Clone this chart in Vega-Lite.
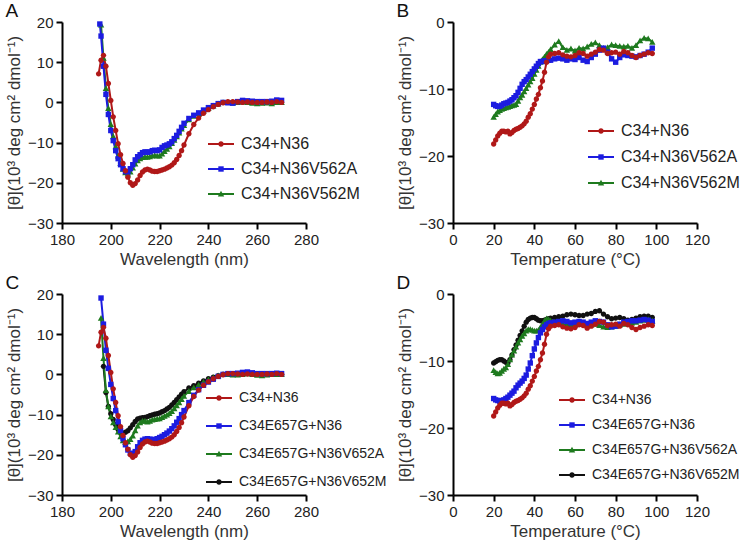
{
"$schema":"https://vega.github.io/schema/vega-lite/v6.json",
"background":"white",
"padding":{"left":5,"top":2,"right":5,"bottom":5},
"datasets":{
"cd":[
{"s":"m","x":196,"y":19.3},{"s":"m","x":197,"y":11},{"s":"m","x":198,"y":3.5},{"s":"m","x":199,"y":-1.5},{"s":"m","x":200,"y":-5.5},{"s":"m","x":201,"y":-8.5},{"s":"m","x":202,"y":-11},{"s":"m","x":203,"y":-13.3},{"s":"m","x":204,"y":-15.2},{"s":"m","x":205,"y":-16.6},{"s":"m","x":206,"y":-17.5},{"s":"m","x":207,"y":-17.8},{"s":"m","x":208,"y":-17.3},{"s":"m","x":209,"y":-16.3},{"s":"m","x":210,"y":-15.3},{"s":"m","x":211,"y":-14.5},{"s":"m","x":212,"y":-14},{"s":"m","x":213,"y":-13.7},{"s":"m","x":214,"y":-13.6},{"s":"m","x":215,"y":-13.6},{"s":"m","x":216,"y":-13.5},{"s":"m","x":217,"y":-13.3},{"s":"m","x":218,"y":-13.2},{"s":"m","x":219,"y":-13.3},{"s":"m","x":220,"y":-13.3},{"s":"m","x":221,"y":-12.8},{"s":"m","x":222,"y":-12.2},{"s":"m","x":223,"y":-11.6},{"s":"m","x":224,"y":-11},{"s":"m","x":225,"y":-10.2},{"s":"m","x":226,"y":-9.4},{"s":"m","x":227,"y":-8.5},{"s":"m","x":228,"y":-7.6},{"s":"m","x":229,"y":-6.6},{"s":"m","x":230,"y":-5.7},{"s":"m","x":232,"y":-4.3},{"s":"m","x":234,"y":-3.4},{"s":"m","x":236,"y":-2.8},{"s":"m","x":238,"y":-2.1},{"s":"m","x":240,"y":-1.5},{"s":"m","x":242,"y":-0.9},{"s":"m","x":244,"y":-0.4},{"s":"m","x":246,"y":0},{"s":"m","x":248,"y":0},{"s":"m","x":250,"y":-0.1},{"s":"m","x":252,"y":0},{"s":"m","x":254,"y":0.1},{"s":"m","x":256,"y":0},{"s":"m","x":258,"y":-0.2},{"s":"m","x":260,"y":-0.3},{"s":"m","x":262,"y":-0.2},{"s":"m","x":264,"y":-0.1},{"s":"m","x":266,"y":-0.3},{"s":"m","x":268,"y":0},{"s":"m","x":270,"y":0},
{"s":"a","x":195.5,"y":19.5},{"s":"a","x":196,"y":16.5},{"s":"a","x":197,"y":9},{"s":"a","x":198,"y":2},{"s":"a","x":199,"y":-3},{"s":"a","x":200,"y":-7},{"s":"a","x":201,"y":-9.5},{"s":"a","x":202,"y":-12},{"s":"a","x":203,"y":-14},{"s":"a","x":204,"y":-15.5},{"s":"a","x":205,"y":-16.5},{"s":"a","x":206,"y":-17.2},{"s":"a","x":207,"y":-17.3},{"s":"a","x":208,"y":-16.5},{"s":"a","x":209,"y":-15.5},{"s":"a","x":210,"y":-14.3},{"s":"a","x":211,"y":-13.5},{"s":"a","x":212,"y":-13},{"s":"a","x":213,"y":-12.5},{"s":"a","x":214,"y":-12.3},{"s":"a","x":215,"y":-12.4},{"s":"a","x":216,"y":-12.3},{"s":"a","x":217,"y":-12},{"s":"a","x":218,"y":-11.9},{"s":"a","x":219,"y":-12},{"s":"a","x":220,"y":-11.8},{"s":"a","x":221,"y":-11.2},{"s":"a","x":222,"y":-10.8},{"s":"a","x":223,"y":-10.6},{"s":"a","x":224,"y":-10.3},{"s":"a","x":225,"y":-9.8},{"s":"a","x":226,"y":-9},{"s":"a","x":227,"y":-8.2},{"s":"a","x":228,"y":-7.2},{"s":"a","x":229,"y":-6.2},{"s":"a","x":230,"y":-5.2},{"s":"a","x":232,"y":-4},{"s":"a","x":234,"y":-3.2},{"s":"a","x":236,"y":-2.6},{"s":"a","x":238,"y":-1.9},{"s":"a","x":240,"y":-1.3},{"s":"a","x":242,"y":-0.8},{"s":"a","x":244,"y":-0.3},{"s":"a","x":246,"y":0},{"s":"a","x":248,"y":-0.1},{"s":"a","x":250,"y":-0.2},{"s":"a","x":252,"y":0.2},{"s":"a","x":254,"y":0.5},{"s":"a","x":256,"y":0.4},{"s":"a","x":258,"y":0.3},{"s":"a","x":260,"y":0.2},{"s":"a","x":262,"y":0.2},{"s":"a","x":264,"y":0.2},{"s":"a","x":266,"y":0.3},{"s":"a","x":268,"y":0.6},{"s":"a","x":270,"y":0.5},
{"s":"em","x":197,"y":2},{"s":"em","x":198,"y":-4.5},{"s":"em","x":199,"y":-8},{"s":"em","x":200,"y":-9.8},{"s":"em","x":201,"y":-11.2},{"s":"em","x":202,"y":-12.5},{"s":"em","x":203,"y":-13.7},{"s":"em","x":204,"y":-14.4},{"s":"em","x":205,"y":-14.6},{"s":"em","x":206,"y":-14.4},{"s":"em","x":207,"y":-14},{"s":"em","x":208,"y":-13.3},{"s":"em","x":209,"y":-12.5},{"s":"em","x":210,"y":-11.7},{"s":"em","x":211,"y":-11.1},{"s":"em","x":212,"y":-10.9},{"s":"em","x":213,"y":-10.8},{"s":"em","x":214,"y":-10.7},{"s":"em","x":215,"y":-10.5},{"s":"em","x":216,"y":-10.3},{"s":"em","x":217,"y":-10.1},{"s":"em","x":218,"y":-9.9},{"s":"em","x":219,"y":-9.8},{"s":"em","x":220,"y":-9.6},{"s":"em","x":221,"y":-9.3},{"s":"em","x":222,"y":-9},{"s":"em","x":223,"y":-8.6},{"s":"em","x":224,"y":-8.2},{"s":"em","x":225,"y":-7.6},{"s":"em","x":226,"y":-7},{"s":"em","x":227,"y":-6.3},{"s":"em","x":228,"y":-5.6},{"s":"em","x":229,"y":-4.9},{"s":"em","x":230,"y":-4.3},{"s":"em","x":232,"y":-3.4},{"s":"em","x":234,"y":-2.8},{"s":"em","x":236,"y":-2.2},{"s":"em","x":238,"y":-1.6},{"s":"em","x":240,"y":-1.1},{"s":"em","x":242,"y":-0.7},{"s":"em","x":244,"y":-0.3},{"s":"em","x":246,"y":0},{"s":"em","x":248,"y":0.1},{"s":"em","x":250,"y":0},{"s":"em","x":252,"y":0.1},{"s":"em","x":254,"y":0.2},{"s":"em","x":256,"y":0.3},{"s":"em","x":258,"y":0.1},{"s":"em","x":260,"y":0},{"s":"em","x":262,"y":0},{"s":"em","x":264,"y":0.1},{"s":"em","x":266,"y":0},{"s":"em","x":268,"y":0.1},{"s":"em","x":270,"y":0},
{"s":"ea","x":196,"y":14},{"s":"ea","x":197,"y":4},{"s":"ea","x":198,"y":-4},{"s":"ea","x":199,"y":-8},{"s":"ea","x":200,"y":-10.5},{"s":"ea","x":201,"y":-12},{"s":"ea","x":202,"y":-13.2},{"s":"ea","x":203,"y":-14.3},{"s":"ea","x":204,"y":-15.5},{"s":"ea","x":205,"y":-16.5},{"s":"ea","x":206,"y":-16.9},{"s":"ea","x":207,"y":-16.7},{"s":"ea","x":208,"y":-16.2},{"s":"ea","x":209,"y":-15.3},{"s":"ea","x":210,"y":-14},{"s":"ea","x":211,"y":-12.8},{"s":"ea","x":212,"y":-12},{"s":"ea","x":213,"y":-11.6},{"s":"ea","x":214,"y":-11.6},{"s":"ea","x":215,"y":-11.8},{"s":"ea","x":216,"y":-11.6},{"s":"ea","x":217,"y":-11.3},{"s":"ea","x":218,"y":-11.2},{"s":"ea","x":219,"y":-11.1},{"s":"ea","x":220,"y":-11},{"s":"ea","x":221,"y":-10.7},{"s":"ea","x":222,"y":-10.4},{"s":"ea","x":223,"y":-10.1},{"s":"ea","x":224,"y":-9.7},{"s":"ea","x":225,"y":-9.2},{"s":"ea","x":226,"y":-8.5},{"s":"ea","x":227,"y":-7.8},{"s":"ea","x":228,"y":-7},{"s":"ea","x":229,"y":-6.2},{"s":"ea","x":230,"y":-5.4},{"s":"ea","x":232,"y":-4.2},{"s":"ea","x":234,"y":-3.3},{"s":"ea","x":236,"y":-2.6},{"s":"ea","x":238,"y":-1.9},{"s":"ea","x":240,"y":-1.3},{"s":"ea","x":242,"y":-0.8},{"s":"ea","x":244,"y":-0.3},{"s":"ea","x":246,"y":0},{"s":"ea","x":248,"y":0},{"s":"ea","x":250,"y":-0.1},{"s":"ea","x":252,"y":-0.1},{"s":"ea","x":254,"y":0},{"s":"ea","x":256,"y":0.2},{"s":"ea","x":258,"y":0},{"s":"ea","x":260,"y":-0.2},{"s":"ea","x":262,"y":-0.3},{"s":"ea","x":264,"y":-0.1},{"s":"ea","x":266,"y":0},{"s":"ea","x":268,"y":0},{"s":"ea","x":270,"y":0},
{"s":"e","x":196,"y":19},{"s":"e","x":197,"y":12.5},{"s":"e","x":198,"y":6},{"s":"e","x":199,"y":1.5},{"s":"e","x":200,"y":-2.5},{"s":"e","x":201,"y":-6},{"s":"e","x":202,"y":-9},{"s":"e","x":203,"y":-11.8},{"s":"e","x":204,"y":-14},{"s":"e","x":205,"y":-16},{"s":"e","x":206,"y":-17.5},{"s":"e","x":207,"y":-18.8},{"s":"e","x":208,"y":-19.6},{"s":"e","x":209,"y":-19.8},{"s":"e","x":210,"y":-19.2},{"s":"e","x":211,"y":-18},{"s":"e","x":212,"y":-17},{"s":"e","x":213,"y":-16.4},{"s":"e","x":214,"y":-16.1},{"s":"e","x":215,"y":-16},{"s":"e","x":216,"y":-16.1},{"s":"e","x":217,"y":-16.2},{"s":"e","x":218,"y":-16.2},{"s":"e","x":219,"y":-16},{"s":"e","x":220,"y":-15.7},{"s":"e","x":221,"y":-15.4},{"s":"e","x":222,"y":-15},{"s":"e","x":223,"y":-14.6},{"s":"e","x":224,"y":-14.1},{"s":"e","x":225,"y":-13.5},{"s":"e","x":226,"y":-12.8},{"s":"e","x":227,"y":-11.9},{"s":"e","x":228,"y":-11},{"s":"e","x":229,"y":-10},{"s":"e","x":230,"y":-9},{"s":"e","x":232,"y":-7},{"s":"e","x":234,"y":-5.2},{"s":"e","x":236,"y":-3.8},{"s":"e","x":238,"y":-2.7},{"s":"e","x":240,"y":-1.9},{"s":"e","x":242,"y":-1.2},{"s":"e","x":244,"y":-0.5},{"s":"e","x":246,"y":0},{"s":"e","x":248,"y":0.2},{"s":"e","x":250,"y":0.2},{"s":"e","x":252,"y":0.3},{"s":"e","x":254,"y":0.5},{"s":"e","x":256,"y":0.6},{"s":"e","x":258,"y":0.4},{"s":"e","x":260,"y":0.2},{"s":"e","x":262,"y":0.2},{"s":"e","x":264,"y":0.2},{"s":"e","x":266,"y":0.2},{"s":"e","x":268,"y":0.3},{"s":"e","x":270,"y":0.2},
{"s":"wt","x":195,"y":7.1},{"s":"wt","x":196,"y":10.5},{"s":"wt","x":197,"y":11.7},{"s":"wt","x":198,"y":9},{"s":"wt","x":199,"y":4.7},{"s":"wt","x":200,"y":0.5},{"s":"wt","x":201,"y":-3.6},{"s":"wt","x":202,"y":-7},{"s":"wt","x":203,"y":-10.3},{"s":"wt","x":204,"y":-13},{"s":"wt","x":205,"y":-15.2},{"s":"wt","x":206,"y":-17},{"s":"wt","x":207,"y":-18.6},{"s":"wt","x":208,"y":-20},{"s":"wt","x":209,"y":-20.6},{"s":"wt","x":210,"y":-20.2},{"s":"wt","x":211,"y":-19.3},{"s":"wt","x":212,"y":-18.2},{"s":"wt","x":213,"y":-17.3},{"s":"wt","x":214,"y":-16.8},{"s":"wt","x":215,"y":-16.6},{"s":"wt","x":216,"y":-16.8},{"s":"wt","x":217,"y":-17.1},{"s":"wt","x":218,"y":-17.2},{"s":"wt","x":219,"y":-17.2},{"s":"wt","x":220,"y":-17},{"s":"wt","x":221,"y":-16.8},{"s":"wt","x":222,"y":-16.6},{"s":"wt","x":223,"y":-16.3},{"s":"wt","x":224,"y":-16},{"s":"wt","x":225,"y":-15.6},{"s":"wt","x":226,"y":-15},{"s":"wt","x":227,"y":-14.2},{"s":"wt","x":228,"y":-13.2},{"s":"wt","x":229,"y":-12},{"s":"wt","x":230,"y":-10.6},{"s":"wt","x":232,"y":-7.8},{"s":"wt","x":234,"y":-5.5},{"s":"wt","x":236,"y":-3.9},{"s":"wt","x":238,"y":-2.7},{"s":"wt","x":240,"y":-1.8},{"s":"wt","x":242,"y":-1.1},{"s":"wt","x":244,"y":-0.5},{"s":"wt","x":246,"y":-0.1},{"s":"wt","x":248,"y":0.2},{"s":"wt","x":250,"y":0.2},{"s":"wt","x":252,"y":0.1},{"s":"wt","x":254,"y":0},{"s":"wt","x":256,"y":0.1},{"s":"wt","x":258,"y":0},{"s":"wt","x":260,"y":0},{"s":"wt","x":262,"y":0},{"s":"wt","x":264,"y":0.1},{"s":"wt","x":266,"y":0},{"s":"wt","x":268,"y":0.2},{"s":"wt","x":270,"y":0}
],
"tm":[
{"s":"m","x":20,"y":-14.2},{"s":"m","x":21,"y":-13.8},{"s":"m","x":22,"y":-13.4},{"s":"m","x":23,"y":-13.2},{"s":"m","x":24,"y":-13},{"s":"m","x":25,"y":-12.9},{"s":"m","x":26,"y":-12.8},{"s":"m","x":27,"y":-12.7},{"s":"m","x":28,"y":-12.6},{"s":"m","x":29,"y":-12.5},{"s":"m","x":30,"y":-12.4},{"s":"m","x":31,"y":-12.3},{"s":"m","x":32,"y":-11.8},{"s":"m","x":33,"y":-11.3},{"s":"m","x":34,"y":-10.9},{"s":"m","x":35,"y":-10.4},{"s":"m","x":36,"y":-9.9},{"s":"m","x":37,"y":-9.4},{"s":"m","x":38,"y":-8.9},{"s":"m","x":39,"y":-8.4},{"s":"m","x":40,"y":-7.8},{"s":"m","x":41,"y":-7.2},{"s":"m","x":42,"y":-6.6},{"s":"m","x":43,"y":-6},{"s":"m","x":44,"y":-5.6},{"s":"m","x":45,"y":-5.2},{"s":"m","x":46,"y":-4.8},{"s":"m","x":47,"y":-4.5},{"s":"m","x":48,"y":-4.1},{"s":"m","x":50,"y":-3.4},{"s":"m","x":52,"y":-2.9},{"s":"m","x":54,"y":-3.8},{"s":"m","x":56,"y":-4.2},{"s":"m","x":58,"y":-4},{"s":"m","x":60,"y":-4.3},{"s":"m","x":62,"y":-3.9},{"s":"m","x":64,"y":-4},{"s":"m","x":66,"y":-3.7},{"s":"m","x":68,"y":-3.3},{"s":"m","x":70,"y":-3.1},{"s":"m","x":72,"y":-3.5},{"s":"m","x":74,"y":-3.9},{"s":"m","x":76,"y":-3.8},{"s":"m","x":78,"y":-3.4},{"s":"m","x":80,"y":-3.5},{"s":"m","x":82,"y":-3.6},{"s":"m","x":84,"y":-3.7},{"s":"m","x":86,"y":-3.6},{"s":"m","x":88,"y":-3.9},{"s":"m","x":90,"y":-3.5},{"s":"m","x":92,"y":-2.8},{"s":"m","x":94,"y":-2.4},{"s":"m","x":96,"y":-2.5},{"s":"m","x":98,"y":-3},
{"s":"a","x":20,"y":-12.3},{"s":"a","x":21,"y":-12.5},{"s":"a","x":22,"y":-12.6},{"s":"a","x":23,"y":-12.6},{"s":"a","x":24,"y":-12.4},{"s":"a","x":25,"y":-12.2},{"s":"a","x":26,"y":-12.1},{"s":"a","x":27,"y":-12},{"s":"a","x":28,"y":-11.8},{"s":"a","x":29,"y":-11.6},{"s":"a","x":30,"y":-11.3},{"s":"a","x":31,"y":-11},{"s":"a","x":32,"y":-10.5},{"s":"a","x":33,"y":-9.9},{"s":"a","x":34,"y":-9.3},{"s":"a","x":35,"y":-8.9},{"s":"a","x":36,"y":-8.6},{"s":"a","x":37,"y":-8.2},{"s":"a","x":38,"y":-7.8},{"s":"a","x":39,"y":-7.4},{"s":"a","x":40,"y":-7},{"s":"a","x":41,"y":-6.6},{"s":"a","x":42,"y":-6.2},{"s":"a","x":43,"y":-5.9},{"s":"a","x":44,"y":-5.9},{"s":"a","x":45,"y":-5.8},{"s":"a","x":46,"y":-5.8},{"s":"a","x":47,"y":-5.7},{"s":"a","x":48,"y":-5.7},{"s":"a","x":50,"y":-5.5},{"s":"a","x":52,"y":-5.4},{"s":"a","x":54,"y":-5.5},{"s":"a","x":56,"y":-5.7},{"s":"a","x":58,"y":-5.5},{"s":"a","x":60,"y":-5.6},{"s":"a","x":62,"y":-5.3},{"s":"a","x":64,"y":-5.7},{"s":"a","x":66,"y":-5.9},{"s":"a","x":68,"y":-5.3},{"s":"a","x":70,"y":-4.8},{"s":"a","x":72,"y":-4.2},{"s":"a","x":74,"y":-3.9},{"s":"a","x":76,"y":-4.5},{"s":"a","x":78,"y":-5.5},{"s":"a","x":80,"y":-6},{"s":"a","x":82,"y":-5.3},{"s":"a","x":84,"y":-4.9},{"s":"a","x":86,"y":-5},{"s":"a","x":88,"y":-5.1},{"s":"a","x":90,"y":-5.2},{"s":"a","x":92,"y":-5},{"s":"a","x":94,"y":-4.8},{"s":"a","x":96,"y":-4.5},{"s":"a","x":98,"y":-3.9},
{"s":"em","x":20,"y":-10.3},{"s":"em","x":21,"y":-10.1},{"s":"em","x":22,"y":-9.9},{"s":"em","x":23,"y":-9.8},{"s":"em","x":24,"y":-9.8},{"s":"em","x":25,"y":-10},{"s":"em","x":26,"y":-10.2},{"s":"em","x":27,"y":-10.3},{"s":"em","x":28,"y":-9.8},{"s":"em","x":29,"y":-9.1},{"s":"em","x":30,"y":-8.3},{"s":"em","x":31,"y":-7.6},{"s":"em","x":32,"y":-6.9},{"s":"em","x":33,"y":-6.2},{"s":"em","x":34,"y":-5.5},{"s":"em","x":35,"y":-4.8},{"s":"em","x":36,"y":-4.2},{"s":"em","x":37,"y":-3.8},{"s":"em","x":38,"y":-3.6},{"s":"em","x":39,"y":-3.5},{"s":"em","x":40,"y":-3.5},{"s":"em","x":41,"y":-3.7},{"s":"em","x":42,"y":-3.9},{"s":"em","x":43,"y":-4},{"s":"em","x":44,"y":-4},{"s":"em","x":45,"y":-3.9},{"s":"em","x":46,"y":-3.8},{"s":"em","x":47,"y":-3.7},{"s":"em","x":48,"y":-3.6},{"s":"em","x":50,"y":-3.5},{"s":"em","x":52,"y":-3.4},{"s":"em","x":54,"y":-3.3},{"s":"em","x":56,"y":-3.1},{"s":"em","x":58,"y":-3},{"s":"em","x":60,"y":-3.1},{"s":"em","x":62,"y":-3.2},{"s":"em","x":64,"y":-3.2},{"s":"em","x":66,"y":-3},{"s":"em","x":68,"y":-2.9},{"s":"em","x":70,"y":-2.6},{"s":"em","x":72,"y":-2.5},{"s":"em","x":74,"y":-3},{"s":"em","x":76,"y":-3.4},{"s":"em","x":78,"y":-3.7},{"s":"em","x":80,"y":-3.6},{"s":"em","x":82,"y":-3.5},{"s":"em","x":84,"y":-3.7},{"s":"em","x":86,"y":-3.9},{"s":"em","x":88,"y":-3.8},{"s":"em","x":90,"y":-3.6},{"s":"em","x":92,"y":-3.4},{"s":"em","x":94,"y":-3.3},{"s":"em","x":96,"y":-3.3},{"s":"em","x":98,"y":-3.5},
{"s":"ea","x":20,"y":-11.4},{"s":"ea","x":21,"y":-11.7},{"s":"ea","x":22,"y":-11.9},{"s":"ea","x":23,"y":-11.8},{"s":"ea","x":24,"y":-11.5},{"s":"ea","x":25,"y":-11.2},{"s":"ea","x":26,"y":-11},{"s":"ea","x":27,"y":-10.5},{"s":"ea","x":28,"y":-9.8},{"s":"ea","x":29,"y":-9.1},{"s":"ea","x":30,"y":-8.5},{"s":"ea","x":31,"y":-7.9},{"s":"ea","x":32,"y":-7.3},{"s":"ea","x":33,"y":-6.8},{"s":"ea","x":34,"y":-6.3},{"s":"ea","x":35,"y":-5.9},{"s":"ea","x":36,"y":-5.5},{"s":"ea","x":37,"y":-5.3},{"s":"ea","x":38,"y":-5.3},{"s":"ea","x":39,"y":-5.4},{"s":"ea","x":40,"y":-5.5},{"s":"ea","x":41,"y":-5.5},{"s":"ea","x":42,"y":-5.4},{"s":"ea","x":43,"y":-5},{"s":"ea","x":44,"y":-4.5},{"s":"ea","x":45,"y":-4},{"s":"ea","x":46,"y":-3.7},{"s":"ea","x":47,"y":-3.8},{"s":"ea","x":48,"y":-4},{"s":"ea","x":50,"y":-4.2},{"s":"ea","x":52,"y":-4.4},{"s":"ea","x":54,"y":-4.5},{"s":"ea","x":56,"y":-4.6},{"s":"ea","x":58,"y":-4.6},{"s":"ea","x":60,"y":-4.6},{"s":"ea","x":62,"y":-4.5},{"s":"ea","x":64,"y":-4.5},{"s":"ea","x":66,"y":-4.6},{"s":"ea","x":68,"y":-4.6},{"s":"ea","x":70,"y":-4.5},{"s":"ea","x":72,"y":-4.7},{"s":"ea","x":74,"y":-4.9},{"s":"ea","x":76,"y":-5},{"s":"ea","x":78,"y":-4.9},{"s":"ea","x":80,"y":-4.8},{"s":"ea","x":82,"y":-4.6},{"s":"ea","x":84,"y":-4.5},{"s":"ea","x":86,"y":-4.4},{"s":"ea","x":88,"y":-4.3},{"s":"ea","x":90,"y":-4.2},{"s":"ea","x":92,"y":-4},{"s":"ea","x":94,"y":-3.9},{"s":"ea","x":96,"y":-3.8},{"s":"ea","x":98,"y":-4},
{"s":"e","x":20,"y":-15.6},{"s":"e","x":21,"y":-15.8},{"s":"e","x":22,"y":-15.9},{"s":"e","x":23,"y":-16},{"s":"e","x":24,"y":-15.9},{"s":"e","x":25,"y":-15.8},{"s":"e","x":26,"y":-15.6},{"s":"e","x":27,"y":-15.4},{"s":"e","x":28,"y":-15.1},{"s":"e","x":29,"y":-14.8},{"s":"e","x":30,"y":-14.5},{"s":"e","x":31,"y":-14},{"s":"e","x":32,"y":-13.6},{"s":"e","x":33,"y":-13.3},{"s":"e","x":34,"y":-13},{"s":"e","x":35,"y":-12.6},{"s":"e","x":36,"y":-12.1},{"s":"e","x":37,"y":-11.2},{"s":"e","x":38,"y":-10.3},{"s":"e","x":39,"y":-9.2},{"s":"e","x":40,"y":-8.2},{"s":"e","x":41,"y":-7.3},{"s":"e","x":42,"y":-6.5},{"s":"e","x":43,"y":-5.8},{"s":"e","x":44,"y":-5.3},{"s":"e","x":45,"y":-4.9},{"s":"e","x":46,"y":-4.6},{"s":"e","x":47,"y":-4.4},{"s":"e","x":48,"y":-4.3},{"s":"e","x":50,"y":-4.2},{"s":"e","x":52,"y":-4.1},{"s":"e","x":54,"y":-4},{"s":"e","x":56,"y":-4.1},{"s":"e","x":58,"y":-4.3},{"s":"e","x":60,"y":-4.2},{"s":"e","x":62,"y":-4.1},{"s":"e","x":64,"y":-4.2},{"s":"e","x":66,"y":-4.4},{"s":"e","x":68,"y":-4.2},{"s":"e","x":70,"y":-4},{"s":"e","x":72,"y":-4.1},{"s":"e","x":74,"y":-4.2},{"s":"e","x":76,"y":-4.6},{"s":"e","x":78,"y":-4.9},{"s":"e","x":80,"y":-4.8},{"s":"e","x":82,"y":-4.5},{"s":"e","x":84,"y":-4.2},{"s":"e","x":86,"y":-4.1},{"s":"e","x":88,"y":-4},{"s":"e","x":90,"y":-4},{"s":"e","x":92,"y":-3.9},{"s":"e","x":94,"y":-3.8},{"s":"e","x":96,"y":-3.9},{"s":"e","x":98,"y":-4.1},
{"s":"wt","x":20,"y":-18.2},{"s":"wt","x":21,"y":-17.6},{"s":"wt","x":22,"y":-17},{"s":"wt","x":23,"y":-16.6},{"s":"wt","x":24,"y":-16.3},{"s":"wt","x":25,"y":-16.3},{"s":"wt","x":26,"y":-16.4},{"s":"wt","x":27,"y":-16.3},{"s":"wt","x":28,"y":-16.7},{"s":"wt","x":29,"y":-16.5},{"s":"wt","x":30,"y":-16.2},{"s":"wt","x":31,"y":-16},{"s":"wt","x":32,"y":-15.9},{"s":"wt","x":33,"y":-15.7},{"s":"wt","x":34,"y":-15.5},{"s":"wt","x":35,"y":-15.2},{"s":"wt","x":36,"y":-14.8},{"s":"wt","x":37,"y":-14.2},{"s":"wt","x":38,"y":-13.7},{"s":"wt","x":39,"y":-13},{"s":"wt","x":40,"y":-12.3},{"s":"wt","x":41,"y":-11.5},{"s":"wt","x":42,"y":-10.8},{"s":"wt","x":43,"y":-9.8},{"s":"wt","x":44,"y":-8.8},{"s":"wt","x":45,"y":-7.5},{"s":"wt","x":46,"y":-6},{"s":"wt","x":47,"y":-5.2},{"s":"wt","x":48,"y":-4.8},{"s":"wt","x":50,"y":-4.7},{"s":"wt","x":52,"y":-4.6},{"s":"wt","x":54,"y":-4.9},{"s":"wt","x":56,"y":-5.1},{"s":"wt","x":58,"y":-5.2},{"s":"wt","x":60,"y":-5},{"s":"wt","x":62,"y":-4.6},{"s":"wt","x":64,"y":-4.7},{"s":"wt","x":66,"y":-5.1},{"s":"wt","x":68,"y":-4.8},{"s":"wt","x":70,"y":-4.5},{"s":"wt","x":72,"y":-4.1},{"s":"wt","x":74,"y":-4.2},{"s":"wt","x":76,"y":-4.7},{"s":"wt","x":78,"y":-4.6},{"s":"wt","x":80,"y":-4.5},{"s":"wt","x":82,"y":-4.8},{"s":"wt","x":84,"y":-4.4},{"s":"wt","x":86,"y":-4.6},{"s":"wt","x":88,"y":-5},{"s":"wt","x":90,"y":-5.3},{"s":"wt","x":92,"y":-5},{"s":"wt","x":94,"y":-4.8},{"s":"wt","x":96,"y":-4.6},{"s":"wt","x":98,"y":-4.7}
]
},
"bounds":"flush",
"columns":2,
"spacing":{"row":71,"column":147},
"resolve":{"scale":{"fill":"independent","stroke":"independent","shape":"independent"},"legend":{"fill":"independent","stroke":"independent","shape":"independent"}},
"concat":[
{"width":244,"height":201,"title":{"text":"A"},"data":{"name":"cd"},
"transform":[{"filter":{"field":"s","oneOf":["m","a","wt"]}}],
"encoding":{
"x":{"field":"x","type":"quantitative","scale":{"domain":[180,280],"nice":false},"axis":{"values":[180,200,220,240,260,280],"title":"Wavelength (nm)"}},
"y":{"field":"y","type":"quantitative","scale":{"domain":[-30,20],"nice":false},"axis":{"values":[-30,-20,-10,0,10,20],"title":"[θ](10³ deg cm² dmol⁻¹)"}}
},
"layer":[
{"mark":{"type":"line","strokeWidth":2},
"encoding":{"stroke":{"field":"s","type":"nominal","scale":{"domain":["wt","a","m","_"],"range":["#b01818","#1c1ce0","#1e7a1e","transparent"]},
"legend":{"values":["wt","a","m"],"legendX":148,"legendY":111,"rowPadding":6,"labelFontSize":16,"labelColor":"transparent","symbolType":"M-1.3,0H1.3","labelExpr":"datum.value==='wt'?'C34+N36':datum.value==='a'?'C34+N36V562A':'C34+N36V562M'"}}}},
{"mark":{"type":"point","filled":true,"size":400,"opacity":1},
"encoding":{
"fill":{"field":"s","type":"nominal","scale":{"domain":["wt","a","m"],"range":["#b01818","#1c1ce0","#1e7a1e"]},
"legend":{"legendX":148,"legendY":111,"rowPadding":6,"labelFontSize":16,"labelExpr":"datum.value==='wt'?'C34+N36':datum.value==='a'?'C34+N36V562A':'C34+N36V562M'"}},
"shape":{"field":"s","type":"nominal","scale":{"domain":["wt","a","m"],"range":["M-0.27,0A0.27,0.27,0,1,0,0.27,0A0.27,0.27,0,1,0,-0.27,0Z","M-0.27,-0.27H0.27V0.27H-0.27Z","M0,-0.32L0.32,0.26H-0.32Z"]},
"legend":{"legendX":148,"legendY":111,"rowPadding":6,"labelFontSize":16,"labelExpr":"datum.value==='wt'?'C34+N36':datum.value==='a'?'C34+N36V562A':'C34+N36V562M'"}}}}
]
},
{"width":244,"height":201,"title":{"text":"B"},"data":{"name":"tm"},
"transform":[{"filter":{"field":"s","oneOf":["m","a","wt"]}}],
"encoding":{
"x":{"field":"x","type":"quantitative","scale":{"domain":[0,120],"nice":false},"axis":{"values":[0,20,40,60,80,100,120],"title":"Temperature (°C)"}},
"y":{"field":"y","type":"quantitative","scale":{"domain":[-30,0],"nice":false},"axis":{"values":[-30,-20,-10,0],"title":"[θ](10³ deg cm² dmol⁻¹)"}}
},
"layer":[
{"mark":{"type":"line","strokeWidth":2},
"encoding":{"stroke":{"field":"s","type":"nominal","scale":{"domain":["wt","a","m","_"],"range":["#b01818","#1c1ce0","#1e7a1e","transparent"]},
"legend":{"values":["wt","a","m"],"legendX":137,"legendY":98,"rowPadding":7,"labelFontSize":16,"labelColor":"transparent","symbolType":"M-1.3,0H1.3","labelExpr":"datum.value==='wt'?'C34+N36':datum.value==='a'?'C34+N36V562A':'C34+N36V562M'"}}}},
{"mark":{"type":"point","filled":true,"size":400,"opacity":1},
"encoding":{
"fill":{"field":"s","type":"nominal","scale":{"domain":["wt","a","m"],"range":["#b01818","#1c1ce0","#1e7a1e"]},
"legend":{"legendX":137,"legendY":98,"rowPadding":7,"labelFontSize":16,"labelExpr":"datum.value==='wt'?'C34+N36':datum.value==='a'?'C34+N36V562A':'C34+N36V562M'"}},
"shape":{"field":"s","type":"nominal","scale":{"domain":["wt","a","m"],"range":["M-0.27,0A0.27,0.27,0,1,0,0.27,0A0.27,0.27,0,1,0,-0.27,0Z","M-0.27,-0.27H0.27V0.27H-0.27Z","M0,-0.32L0.32,0.26H-0.32Z"]},
"legend":{"legendX":137,"legendY":98,"rowPadding":7,"labelFontSize":16,"labelExpr":"datum.value==='wt'?'C34+N36':datum.value==='a'?'C34+N36V562A':'C34+N36V562M'"}}}}
]
},
{"width":244,"height":201,"title":{"text":"C"},"data":{"name":"cd"},
"transform":[{"filter":{"field":"s","oneOf":["em","ea","e","wt"]}}],
"encoding":{
"x":{"field":"x","type":"quantitative","scale":{"domain":[180,280],"nice":false},"axis":{"values":[180,200,220,240,260,280],"title":"Wavelength (nm)"}},
"y":{"field":"y","type":"quantitative","scale":{"domain":[-30,20],"nice":false},"axis":{"values":[-30,-20,-10,0,10,20],"title":"[θ](10³ deg cm² dmol⁻¹)"}}
},
"layer":[
{"mark":{"type":"line","strokeWidth":2},
"encoding":{"stroke":{"field":"s","type":"nominal","scale":{"domain":["wt","e","ea","em","_"],"range":["#b01818","#1c1ce0","#1e7a1e","#111111","transparent"]},
"legend":{"values":["wt","e","ea","em"],"legendX":146,"legendY":93,"rowPadding":10,"labelFontSize":14,"labelColor":"transparent","symbolType":"M-1.3,0H1.3","labelExpr":"datum.value==='wt'?'C34+N36':datum.value==='e'?'C34E657G+N36':datum.value==='ea'?'C34E657G+N36V652A':'C34E657G+N36V652M'"}}}},
{"mark":{"type":"point","filled":true,"size":400,"opacity":1},
"encoding":{
"fill":{"field":"s","type":"nominal","scale":{"domain":["wt","e","ea","em"],"range":["#b01818","#1c1ce0","#1e7a1e","#111111"]},
"legend":{"legendX":146,"legendY":93,"rowPadding":10,"labelFontSize":14,"labelExpr":"datum.value==='wt'?'C34+N36':datum.value==='e'?'C34E657G+N36':datum.value==='ea'?'C34E657G+N36V652A':'C34E657G+N36V652M'"}},
"shape":{"field":"s","type":"nominal","scale":{"domain":["wt","e","ea","em"],"range":["M-0.27,0A0.27,0.27,0,1,0,0.27,0A0.27,0.27,0,1,0,-0.27,0Z","M-0.27,-0.27H0.27V0.27H-0.27Z","M0,-0.32L0.32,0.26H-0.32Z","M-0.27,0A0.27,0.27,0,1,0,0.27,0A0.27,0.27,0,1,0,-0.27,0Z"]},
"legend":{"legendX":146,"legendY":93,"rowPadding":10,"labelFontSize":14,"labelExpr":"datum.value==='wt'?'C34+N36':datum.value==='e'?'C34E657G+N36':datum.value==='ea'?'C34E657G+N36V652A':'C34E657G+N36V652M'"}}}}
]
},
{"width":244,"height":201,"title":{"text":"D"},"data":{"name":"tm"},
"transform":[{"filter":{"field":"s","oneOf":["em","ea","e","wt"]}}],
"encoding":{
"x":{"field":"x","type":"quantitative","scale":{"domain":[0,120],"nice":false},"axis":{"values":[0,20,40,60,80,100,120],"title":"Temperature (°C)"}},
"y":{"field":"y","type":"quantitative","scale":{"domain":[-30,0],"nice":false},"axis":{"values":[-30,-20,-10,0],"title":"[θ](10³ deg cm² dmol⁻¹)"}}
},
"layer":[
{"mark":{"type":"line","strokeWidth":2},
"encoding":{"stroke":{"field":"s","type":"nominal","scale":{"domain":["wt","e","ea","em","_"],"range":["#b01818","#1c1ce0","#1e7a1e","#111111","transparent"]},
"legend":{"values":["wt","e","ea","em"],"legendX":108,"legendY":95,"rowPadding":7,"labelFontSize":14,"labelColor":"transparent","symbolType":"M-1.3,0H1.3","labelExpr":"datum.value==='wt'?'C34+N36':datum.value==='e'?'C34E657G+N36':datum.value==='ea'?'C34E657G+N36V562A':'C34E657G+N36V652M'"}}}},
{"mark":{"type":"point","filled":true,"size":400,"opacity":1},
"encoding":{
"fill":{"field":"s","type":"nominal","scale":{"domain":["wt","e","ea","em"],"range":["#b01818","#1c1ce0","#1e7a1e","#111111"]},
"legend":{"legendX":108,"legendY":95,"rowPadding":7,"labelFontSize":14,"labelExpr":"datum.value==='wt'?'C34+N36':datum.value==='e'?'C34E657G+N36':datum.value==='ea'?'C34E657G+N36V562A':'C34E657G+N36V652M'"}},
"shape":{"field":"s","type":"nominal","scale":{"domain":["wt","e","ea","em"],"range":["M-0.27,0A0.27,0.27,0,1,0,0.27,0A0.27,0.27,0,1,0,-0.27,0Z","M-0.27,-0.27H0.27V0.27H-0.27Z","M0,-0.32L0.32,0.26H-0.32Z","M-0.27,0A0.27,0.27,0,1,0,0.27,0A0.27,0.27,0,1,0,-0.27,0Z"]},
"legend":{"legendX":108,"legendY":95,"rowPadding":7,"labelFontSize":14,"labelExpr":"datum.value==='wt'?'C34+N36':datum.value==='e'?'C34E657G+N36':datum.value==='ea'?'C34E657G+N36V562A':'C34E657G+N36V652M'"}}}}
]
}
],
"config":{
"view":{"stroke":null},
"font":"Liberation Sans",
"axis":{"domainColor":"#000000","domainWidth":2,"tickColor":"#000000","tickWidth":2,"tickSize":6,"grid":false,"labelFontSize":15,"labelColor":"#222222","labelFlush":false,"labelOverlap":false,"titleFontSize":17,"titleFontWeight":"normal","titleColor":"#333333","labelPadding":3,"titlePadding":4},
"title":{"fontSize":19,"fontWeight":"normal","anchor":"start","frame":"bounds","color":"#111111","offset":-6},
"legend":{"orient":"none","title":null,"padding":0,"labelLimit":400,"labelColor":"#222222","symbolSize":400,"symbolStrokeWidth":2,"labelOffset":9}
}
}
